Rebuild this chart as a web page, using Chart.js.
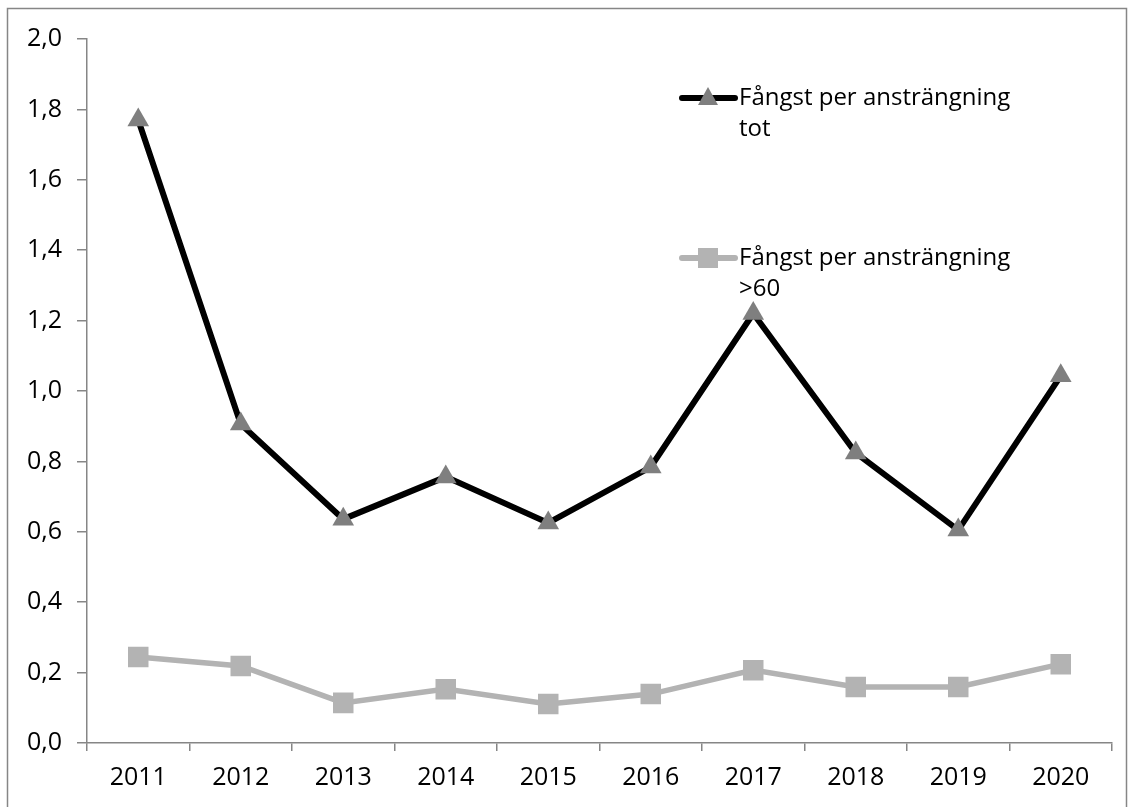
<!DOCTYPE html>
<html>
<head>
<meta charset="utf-8">
<script src="https://cdn.jsdelivr.net/npm/chart.js@4/dist/chart.umd.min.js"></script>
<style>
  html, body { margin: 0; padding: 0; background: #fff; }
  #wrap { width: 1133px; height: 807px; position: relative; }
</style>
</head>
<body>
<div id="wrap"><canvas id="chart" width="1133" height="807"></canvas></div>
<script>
const years = ["2011", "2012", "2013", "2014", "2015", "2016", "2017", "2018", "2019", "2020"];
const totValues = [1.77, 0.906, 0.636, 0.756, 0.625, 0.784, 1.22, 0.824, 0.605, 1.043];
const over60Values = [0.244, 0.219, 0.114, 0.153, 0.111, 0.139, 0.207, 0.159, 0.159, 0.224];
const seriesNames = [["Fångst per ansträngning", "tot"], ["Fångst per ansträngning", ">60"]];

const FONT = "'Open Sans', 'Liberation Sans', sans-serif";
const AXIS_GRAY = "#868686";

// outer frame + custom two-line legend inside the plot
const framePlugin = {
  id: "frame",
  afterDraw(chart) {
    const ctx = chart.ctx;
    ctx.save();
    ctx.strokeStyle = AXIS_GRAY;
    ctx.lineWidth = 1.5;
    ctx.strokeRect(7.5, 8.5, 1119, 810);

    const entries = [
      { y: 98, line: "#000000", marker: "#7f7f7f", style: "triangle", names: seriesNames[0] },
      { y: 258, line: "#b3b3b3", marker: "#b3b3b3", style: "rect", names: seriesNames[1] },
    ];
    entries.forEach((e) => {
      ctx.strokeStyle = e.line;
      ctx.lineWidth = 6;
      ctx.lineCap = "round";
      ctx.beginPath();
      ctx.moveTo(682, e.y);
      ctx.lineTo(735, e.y);
      ctx.stroke();
      ctx.fillStyle = e.marker;
      if (e.style === "triangle") {
        ctx.beginPath();
        ctx.moveTo(708, e.y - 11);
        ctx.lineTo(718, e.y + 7);
        ctx.lineTo(698, e.y + 7);
        ctx.closePath();
        ctx.fill();
      } else {
        ctx.fillRect(698, e.y - 10, 20, 20);
      }
      ctx.fillStyle = "#000";
      ctx.font = "24px " + FONT;
      ctx.textBaseline = "middle";
      ctx.textAlign = "left";
      ctx.fillText(e.names[0], 739, e.y);
      ctx.fillText(e.names[1], 739, e.y + 31);
    });
    ctx.restore();
  },
};

new Chart(document.getElementById("chart"), {
  type: "line",
  data: {
    labels: years,
    datasets: [
      {
        label: seriesNames[1].join(" "),
        data: over60Values,
        borderColor: "#b3b3b3",
        borderWidth: 5.5,
        pointStyle: "rect",
        pointRadius: 14.5,
        pointBackgroundColor: "#b3b3b3",
        pointBorderWidth: 0,
        tension: 0,
      },
      {
        label: seriesNames[0].join(" "),
        data: totValues,
        borderColor: "#000000",
        borderWidth: 6,
        pointStyle: "triangle",
        pointRadius: 12.5,
        pointBackgroundColor: "#7f7f7f",
        pointBorderWidth: 0,
        tension: 0,
      },
    ],
  },
  options: {
    responsive: false,
    animation: false,
    layout: { padding: { left: 0, top: 39, right: 21, bottom: 0 } },
    plugins: {
      legend: { display: false },
      tooltip: { enabled: false },
    },
    scales: {
      x: {
        offset: true,
        grid: { offset: true, drawOnChartArea: false, color: AXIS_GRAY, tickLength: 8, lineWidth: 1.5 },
        border: { color: AXIS_GRAY, width: 1.5 },
        ticks: { color: "#000", font: { family: FONT, size: 25 }, padding: 12, maxRotation: 0 },
        afterFit(scale) { scale.height = 64; },
      },
      y: {
        min: 0,
        max: 2,
        ticks: {
          stepSize: 0.2,
          color: "#000",
          font: { family: FONT, size: 25 },
          padding: 15,
          callback: (v) => v.toFixed(1).replace(".", ","),
        },
        grid: { drawOnChartArea: false, color: AXIS_GRAY, tickLength: 10, lineWidth: 1.5 },
        border: { color: AXIS_GRAY, width: 1.5 },
        afterFit(scale) { scale.width = 87; },
      },
    },
  },
  plugins: [framePlugin],
});
</script>
</body>
</html>
